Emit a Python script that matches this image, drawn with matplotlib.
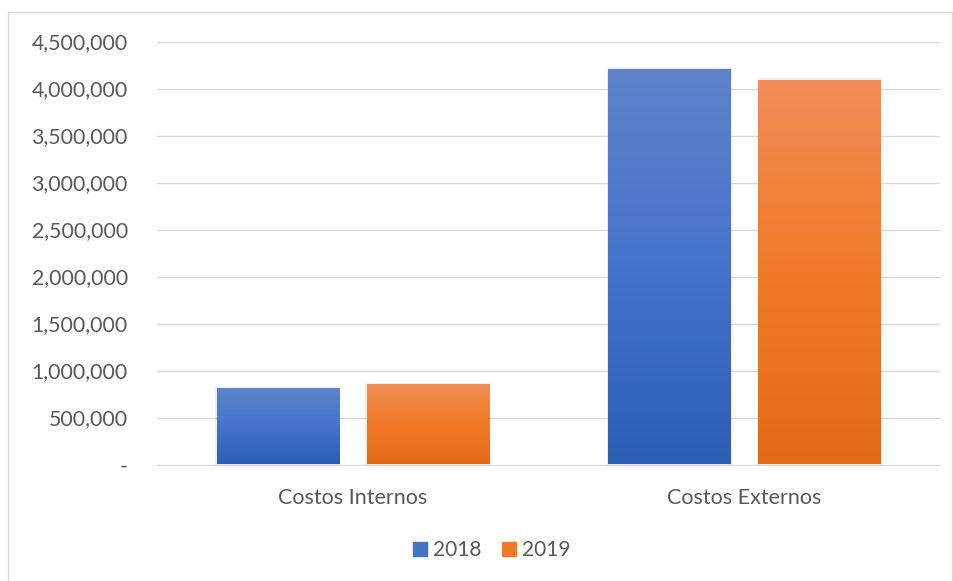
import numpy as np
import matplotlib.pyplot as plt
from matplotlib.patches import Rectangle, Patch
from matplotlib.colors import LinearSegmentedColormap
from matplotlib.ticker import FuncFormatter

categories = ['Costos Internos', 'Costos Externos']
years = ['2018', '2019']
costs_2018 = [810000, 4210000]
costs_2019 = [860000, 4095000]

# gradient stops (top -> bottom) per series
blue_stops = ['#5F83CA', '#4573CC', '#2E5DB6']
orange_stops = ['#F08D58', '#F27A27', '#E36916']

plt.rcParams['font.family'] = ['Lato', 'DejaVu Sans']

fig = plt.figure(figsize=(9.54, 5.81), dpi=100)
ax = fig.add_axes([157 / 954, 116.5 / 581, 783 / 954, 423 / 581])

# outer chart border (runs past the bottom edge, like the original)
fig.patches.append(Rectangle((8 / 954, -10 / 581), 944 / 954, 579 / 581,
                             transform=fig.transFigure, fill=False,
                             edgecolor='#D9D9D9', lw=1))

x = np.arange(len(categories))
width = 0.312
offset = 0.1916

ax.set_xlim(-0.5, 1.5)
ax.set_ylim(0, 4500000)


def gradient_bars(xpos, values, stops):
    cmap = LinearSegmentedColormap.from_list('g', stops[::-1])
    bars = ax.bar(xpos, values, width, color='none', zorder=3)
    grad = np.linspace(0, 1, 256).reshape(-1, 1)
    for b in bars:
        x0, y0 = b.get_x(), b.get_y()
        w, h = b.get_width(), b.get_height()
        im = ax.imshow(grad, cmap=cmap, origin='lower', aspect='auto',
                       extent=[x0, x0 + w, y0, y0 + h], zorder=3)
        im.set_clip_path(b)
        # soft shadow
        ax.add_patch(Rectangle((x0 - 0.004, y0), w + 0.008, h + 12000,
                               color='#000000', alpha=0.06, lw=0, zorder=2))
    return bars


gradient_bars(x - offset, costs_2018, blue_stops)
gradient_bars(x + offset, costs_2019, orange_stops)

ax.set_xlim(-0.5, 1.5)
ax.set_ylim(0, 4500000)
ax.set_yticks(np.arange(0, 4500001, 500000))
ax.yaxis.set_major_formatter(FuncFormatter(lambda v, p: '-' if v == 0 else f'{v:,.0f}'))
ax.set_xticks(x)
ax.set_xticklabels(categories)

ax.grid(axis='y', color='#D9D9D9', lw=1, zorder=0)
ax.set_axisbelow(True)
for s in ['top', 'right', 'left']:
    ax.spines[s].set_visible(False)
ax.spines['bottom'].set_color('#D9D9D9')
ax.tick_params(axis='both', length=0, colors='#595959')
ax.tick_params(axis='y', pad=21, labelsize=15.3)
ax.tick_params(axis='x', pad=17, labelsize=15.5)

handles = [Patch(color='#4472C4', label=years[0]),
           Patch(color='#F07A28', label=years[1])]
leg = fig.legend(handles=handles, loc='center', bbox_to_anchor=(492 / 954, 1 - 550 / 581),
                 ncol=2, frameon=False, fontsize=15, handlelength=0.65, handleheight=0.65,
                 handletextpad=0.3, columnspacing=1.0)
for t in leg.get_texts():
    t.set_color('#595959')

fig.savefig('out.png', dpi=100)
